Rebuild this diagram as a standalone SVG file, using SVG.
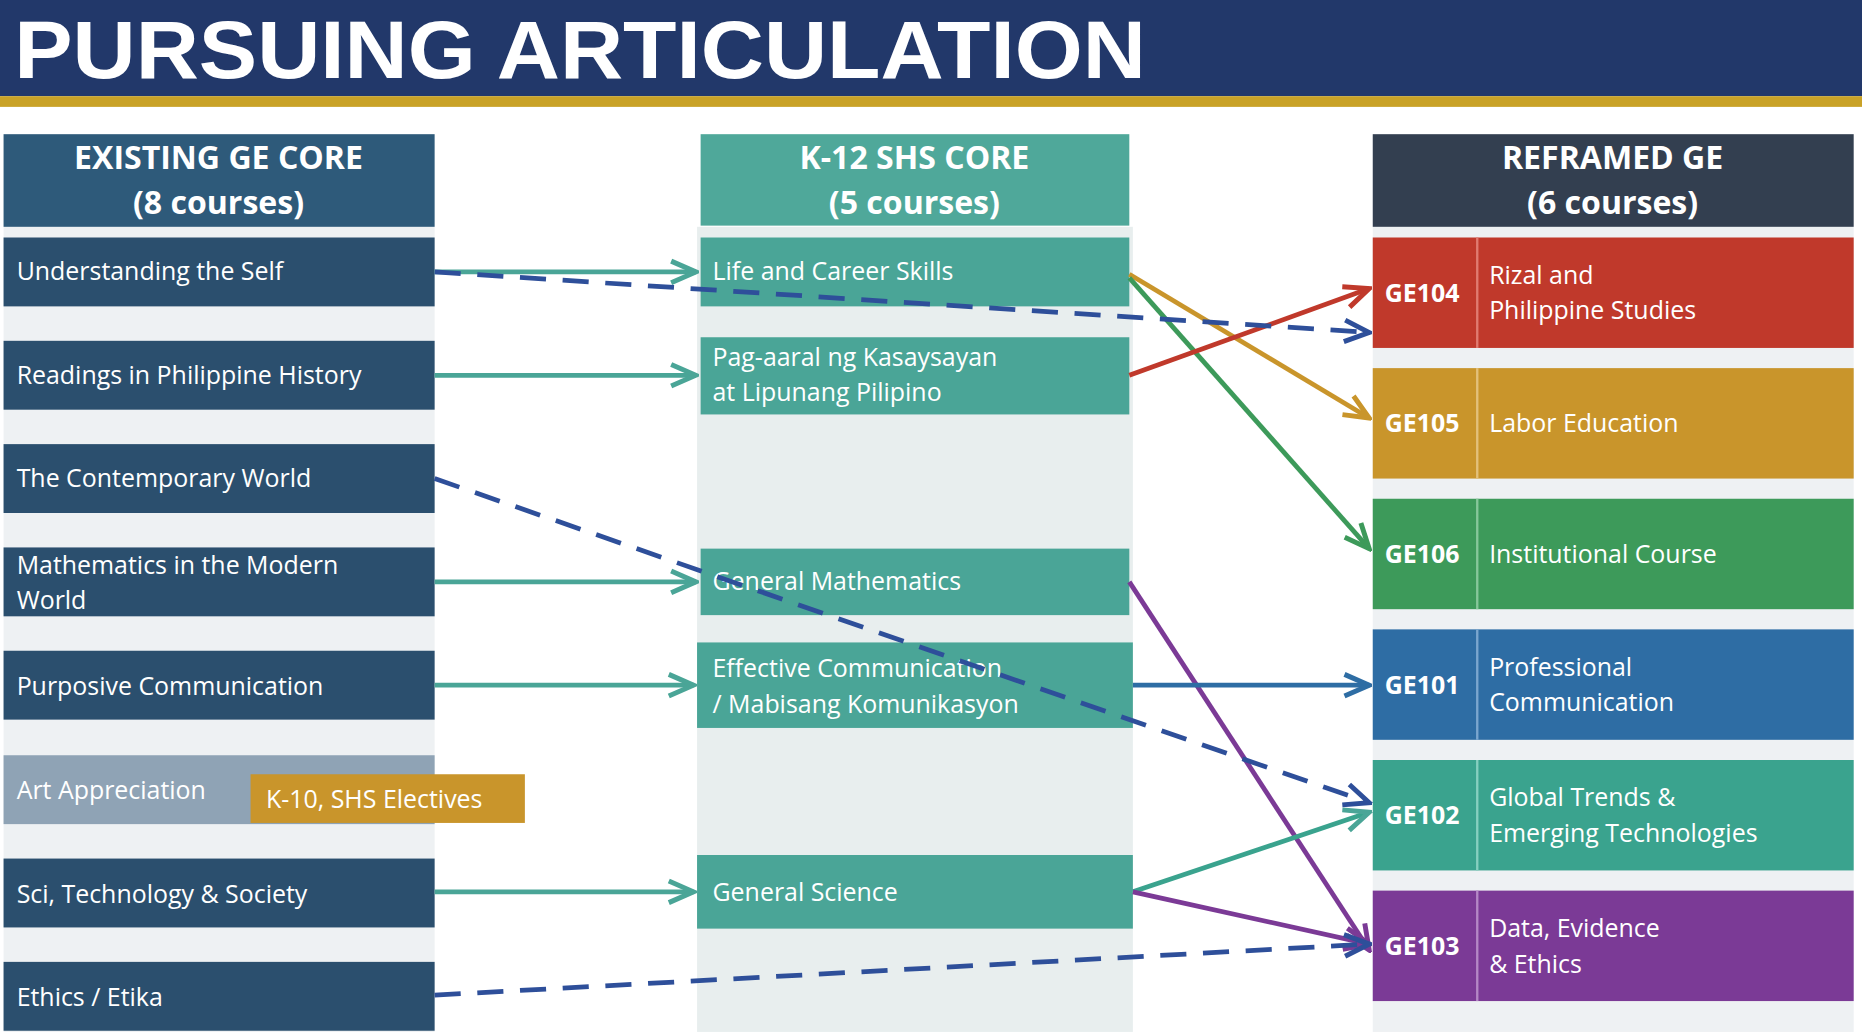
<svg xmlns="http://www.w3.org/2000/svg" width="1862" height="1032" viewBox="0 0 1862 1032">
<defs>
<style>
text{font-family:"Open Sans","Liberation Sans",sans-serif;fill:#fff}
.h{font-size:27px;font-weight:bold;text-anchor:middle}
.t{font-size:21px}
.c{font-size:21px;font-weight:bold}
.lb{fill:#2b4f6e}
.mb{fill:#4aa597}
.ln{fill:none;stroke-width:4}
.d{stroke:#2e4f9a;stroke-dasharray:22 14}
</style>
<marker id="aT" viewBox="0 0 10 10" refX="9" refY="5" markerWidth="26" markerHeight="26" orient="auto" markerUnits="userSpaceOnUse"><path d="M1,1.5 L9,5 L1,8.5" fill="none" stroke="#4aa597" stroke-width="1.6"/></marker>
<marker id="aB" viewBox="0 0 10 10" refX="9" refY="5" markerWidth="26" markerHeight="26" orient="auto" markerUnits="userSpaceOnUse"><path d="M1,1.5 L9,5 L1,8.5" fill="none" stroke="#2e4f9a" stroke-width="1.6"/></marker>
<marker id="aG" viewBox="0 0 10 10" refX="9" refY="5" markerWidth="26" markerHeight="26" orient="auto" markerUnits="userSpaceOnUse"><path d="M1,1.5 L9,5 L1,8.5" fill="none" stroke="#c9952b" stroke-width="1.6"/></marker>
<marker id="aGr" viewBox="0 0 10 10" refX="9" refY="5" markerWidth="26" markerHeight="26" orient="auto" markerUnits="userSpaceOnUse"><path d="M1,1.5 L9,5 L1,8.5" fill="none" stroke="#3d9a5a" stroke-width="1.6"/></marker>
<marker id="aR" viewBox="0 0 10 10" refX="9" refY="5" markerWidth="26" markerHeight="26" orient="auto" markerUnits="userSpaceOnUse"><path d="M1,1.5 L9,5 L1,8.5" fill="none" stroke="#c0392b" stroke-width="1.6"/></marker>
<marker id="aP" viewBox="0 0 10 10" refX="9" refY="5" markerWidth="26" markerHeight="26" orient="auto" markerUnits="userSpaceOnUse"><path d="M1,1.5 L9,5 L1,8.5" fill="none" stroke="#7b3a96" stroke-width="1.6"/></marker>
<marker id="aBl" viewBox="0 0 10 10" refX="9" refY="5" markerWidth="26" markerHeight="26" orient="auto" markerUnits="userSpaceOnUse"><path d="M1,1.5 L9,5 L1,8.5" fill="none" stroke="#2e6da4" stroke-width="1.6"/></marker>
</defs>
<rect width="1862" height="1032" fill="#fff"/>
<g transform="scale(1.1875)">
<g id="header">
<rect x="0" y="0" width="1568" height="81" fill="#22386a"/>
<rect x="0" y="81" width="1568" height="9" fill="#c9a227"/>
<text x="12" y="66" textLength="953" lengthAdjust="spacingAndGlyphs" style="font-size:68px;font-weight:bold;font-family:'Liberation Sans',sans-serif">PURSUING ARTICULATION</text>
</g>
<g id="backgrounds">
<rect x="3" y="191" width="363" height="678" fill="#eef1f3"/>
<rect x="587" y="191" width="367" height="678" fill="#e8eeee"/>
<rect x="1156" y="191" width="405" height="678" fill="#eef1f3"/>
</g>
<g id="col-left">
<rect x="3" y="113" width="363" height="78" fill="#2e5a7a"/>
<text class="h" x="184" y="142">EXISTING GE CORE</text><text class="h" x="184" y="180">(8 courses)</text>
</g>
<g id="l1"><rect class="lb" x="3" y="200" width="363" height="58"/><text class="t" x="14" y="236">Understanding the Self</text></g>
<g id="l2"><rect class="lb" x="3" y="287" width="363" height="58"/><text class="t" x="14" y="323">Readings in Philippine History</text></g>
<g id="l3"><rect class="lb" x="3" y="374" width="363" height="58"/><text class="t" x="14" y="410">The Contemporary World</text></g>
<g id="l4"><rect class="lb" x="3" y="461" width="363" height="58"/><text class="t" x="14" y="483">Mathematics in the Modern</text><text class="t" x="14" y="513">World</text></g>
<g id="l5"><rect class="lb" x="3" y="548" width="363" height="58"/><text class="t" x="14" y="585">Purposive Communication</text></g>
<g id="l6"><rect x="3" y="636" width="363" height="58" fill="#8fa3b5"/><text class="t" x="14" y="673">Art Appreciation</text></g>
<g id="l7"><rect class="lb" x="3" y="723" width="363" height="58"/><text class="t" x="14" y="760">Sci, Technology &amp; Society</text></g>
<g id="l8"><rect class="lb" x="3" y="810" width="363" height="58"/><text class="t" x="14" y="847">Ethics / Etika</text></g>
<g id="k10"><rect x="211" y="652" width="231" height="41" fill="#c9952b"/><text class="t" x="224" y="680">K-10, SHS Electives</text></g>
<g id="col-mid">
<rect x="590" y="113" width="361" height="77" fill="#4fa89a"/>
<text class="h" x="770" y="142">K-12 SHS CORE</text><text class="h" x="770" y="180">(5 courses)</text>
</g>
<g id="m1"><rect class="mb" x="590" y="200" width="361" height="58"/><text class="t" x="600" y="236">Life and Career Skills</text></g>
<g id="m2"><rect class="mb" x="590" y="284" width="361" height="65"/><text class="t" x="600" y="308">Pag-aaral ng Kasaysayan</text><text class="t" x="600" y="338">at Lipunang Pilipino</text></g>
<g id="m3"><rect class="mb" x="590" y="462" width="361" height="56"/><text class="t" x="600" y="497">General Mathematics</text></g>
<g id="m4"><rect class="mb" x="587" y="541" width="367" height="72"/><text class="t" x="600" y="570">Effective Communication</text><text class="t" x="600" y="600">/ Mabisang Komunikasyon</text></g>
<g id="m5"><rect class="mb" x="587" y="720" width="367" height="62"/><text class="t" x="600" y="759">General Science</text></g>
<g id="col-right">
<rect x="1156" y="113" width="405" height="78" fill="#333f50"/>
<text class="h" x="1358" y="142">REFRAMED GE</text><text class="h" x="1358" y="180">(6 courses)</text>
</g>
<g id="ge104"><rect x="1156" y="200" width="405" height="93" fill="#c0392b"/><line x1="1244" y1="200" x2="1244" y2="293" stroke="#e07b70" stroke-width="2"/><text class="c" x="1166" y="254">GE104</text><text class="t" x="1254" y="239">Rizal and</text><text class="t" x="1254" y="269">Philippine Studies</text></g>
<g id="ge105"><rect x="1156" y="310" width="405" height="93" fill="#c9952b"/><line x1="1244" y1="310" x2="1244" y2="403" stroke="#e3c07a" stroke-width="2"/><text class="c" x="1166" y="364">GE105</text><text class="t" x="1254" y="364">Labor Education</text></g>
<g id="ge106"><rect x="1156" y="420" width="405" height="93" fill="#3d9a5a"/><line x1="1244" y1="420" x2="1244" y2="513" stroke="#86c79a" stroke-width="2"/><text class="c" x="1166" y="474">GE106</text><text class="t" x="1254" y="474">Institutional Course</text></g>
<g id="ge101"><rect x="1156" y="530" width="405" height="93" fill="#2e6da4"/><line x1="1244" y1="530" x2="1244" y2="623" stroke="#7aa6cf" stroke-width="2"/><text class="c" x="1166" y="584">GE101</text><text class="t" x="1254" y="569">Professional</text><text class="t" x="1254" y="599">Communication</text></g>
<g id="ge102"><rect x="1156" y="640" width="405" height="93" fill="#3aa38e"/><line x1="1244" y1="640" x2="1244" y2="733" stroke="#86cfbf" stroke-width="2"/><text class="c" x="1166" y="694">GE102</text><text class="t" x="1254" y="679">Global Trends &amp;</text><text class="t" x="1254" y="709">Emerging Technologies</text></g>
<g id="ge103"><rect x="1156" y="750" width="405" height="93" fill="#7b3a96"/><line x1="1244" y1="750" x2="1244" y2="843" stroke="#b487c6" stroke-width="2"/><text class="c" x="1166" y="804">GE103</text><text class="t" x="1254" y="789">Data, Evidence</text><text class="t" x="1254" y="819">&amp; Ethics</text></g>
<g id="connectors">
<g stroke="#4aa597" class="ln">
<line x1="366" y1="229" x2="586" y2="229" marker-end="url(#aT)"/>
<line x1="366" y1="316" x2="586" y2="316" marker-end="url(#aT)"/>
<line x1="366" y1="490" x2="586" y2="490" marker-end="url(#aT)"/>
<line x1="366" y1="577" x2="584" y2="577" marker-end="url(#aT)"/>
<line x1="366" y1="751" x2="584" y2="751" marker-end="url(#aT)"/>
</g>
<line class="ln" stroke="#c9952b" x1="951" y1="231" x2="1153" y2="352" marker-end="url(#aG)"/>
<line class="ln" stroke="#3d9a5a" x1="951" y1="234" x2="1153" y2="462" marker-end="url(#aGr)"/>
<line class="ln" stroke="#c0392b" x1="951" y1="316" x2="1153" y2="243" marker-end="url(#aR)"/>
<line class="ln" stroke="#7b3a96" x1="951" y1="490" x2="1153" y2="800" marker-end="url(#aP)"/>
<line class="ln" stroke="#2e6da4" x1="954" y1="577" x2="1153" y2="577" marker-end="url(#aBl)"/>
<line class="ln" stroke="#3aa38e" x1="954" y1="751" x2="1153" y2="684" marker-end="url(#aT)"/>
<line class="ln" stroke="#7b3a96" x1="954" y1="751" x2="1153" y2="795" marker-end="url(#aP)"/>
<line class="ln d" x1="366" y1="229" x2="1153" y2="280" marker-end="url(#aB)"/>
<line class="ln d" x1="366" y1="403" x2="1153" y2="676" marker-end="url(#aB)"/>
<line class="ln d" x1="366" y1="838" x2="1153" y2="795" marker-end="url(#aB)"/>
</g>
</g>
</svg>
